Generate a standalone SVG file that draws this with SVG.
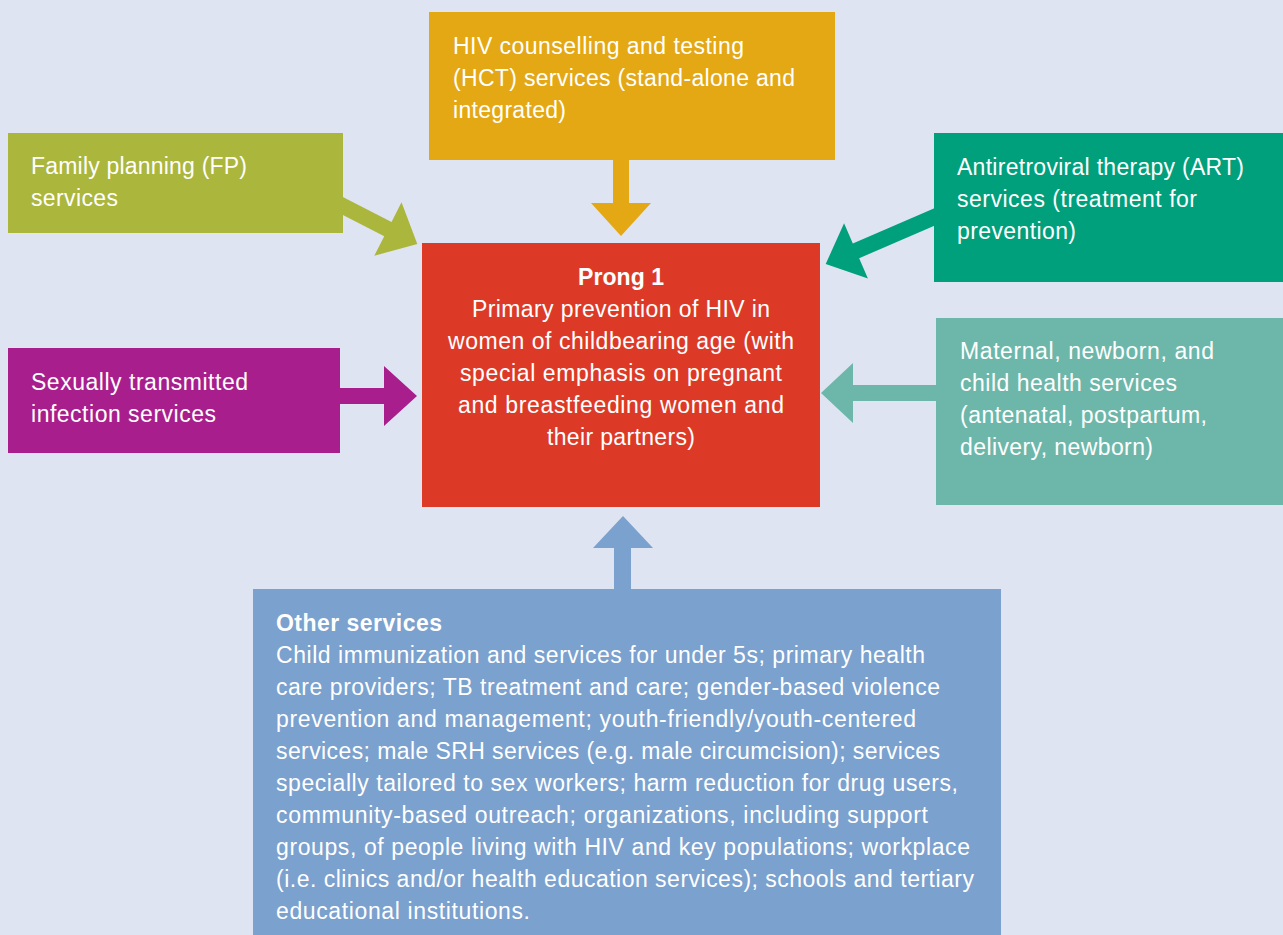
<svg xmlns="http://www.w3.org/2000/svg" width="1283" height="935" viewBox="0 0 1283 935">
<style>
text{font-family:"Liberation Sans",Arial,Helvetica,sans-serif;font-size:23px;fill:#ffffff}
.b{font-weight:bold}
.m{text-anchor:middle}
</style>
<defs>
<polygon id="diag" points="0,0 -33,-30 -33,-8 -130,-8 -130,8 -33,8 -33,30"/>
</defs>
<rect x="0" y="0" width="1283" height="935" fill="#DEE4F1"/>
<g id="connectors">
<polygon fill="#E4A814" points="613,158 629,158 629,203 651,203 621,236 591,203 613,203"/>
<polygon fill="#A91E8D" points="338,388 384,388 384,366 417,396 384,426 384,404 338,404"/>
<polygon fill="#6DB7AA" points="938,385 853,385 853,363 821,393 853,423 853,401 938,401"/>
<polygon fill="#7BA1CE" points="614,591 614,548 593,548 623,516 653,548 631,548 631,591"/>
<g transform="translate(417.3,244) rotate(27)"><polygon fill="#ABB63D" points="0,0 -33,-30 -33,-8 -92,-8 -92,8 -33,8 -33,30"/></g>
<g transform="translate(825.7,264) rotate(156.6)"><polygon fill="#00A07D" points="0,0 -33,-30 -33,-8 -125,-8 -125,8 -33,8 -33,30"/></g>
</g>
<g id="hct">
<rect x="429" y="12" width="406" height="148" fill="#E4A814"/>
<text x="453" y="54" textLength="291">HIV counselling and testing</text>
<text x="453" y="86" textLength="342">(HCT) services (stand-alone and</text>
<text x="453" y="118" textLength="113">integrated)</text>
</g>
<g id="fp">
<rect x="8" y="133" width="335" height="100" fill="#ABB63D"/>
<text x="31" y="174" textLength="216">Family planning (FP)</text>
<text x="31" y="206" textLength="87">services</text>
</g>
<g id="art">
<rect x="934" y="133" width="349" height="149" fill="#00A07D"/>
<text x="957" y="175" textLength="287">Antiretroviral therapy (ART)</text>
<text x="957" y="207" textLength="240">services (treatment for</text>
<text x="957" y="239" textLength="119">prevention)</text>
</g>
<g id="sti">
<rect x="8" y="348" width="332" height="105" fill="#A91E8D"/>
<text x="31" y="390" textLength="217">Sexually transmitted</text>
<text x="31" y="422" textLength="185">infection services</text>
</g>
<g id="mnch">
<rect x="936" y="318" width="347" height="187" fill="#6DB7AA"/>
<text x="960" y="359" textLength="254">Maternal, newborn, and</text>
<text x="960" y="391" textLength="217">child health services</text>
<text x="960" y="423" textLength="247">(antenatal, postpartum,</text>
<text x="960" y="455" textLength="193">delivery, newborn)</text>
</g>
<g id="prong1">
<rect x="422" y="243" width="398" height="264" fill="#DC3A27"/>
<text class="b m" x="621" y="285" textLength="86">Prong 1</text>
<text class="m" x="621" y="317" textLength="298">Primary prevention of HIV in</text>
<text class="m" x="621" y="349" textLength="346">women of childbearing age (with</text>
<text class="m" x="621" y="381" textLength="322">special emphasis on pregnant</text>
<text class="m" x="621" y="413" textLength="326">and breastfeeding women and</text>
<text class="m" x="621" y="445" textLength="148">their partners)</text>
</g>
<g id="other">
<rect x="253" y="589" width="748" height="346" fill="#7BA1CE"/>
<text class="b" x="276" y="631" textLength="166">Other services</text>
<text x="276" y="663" textLength="649">Child immunization and services for under 5s; primary health</text>
<text x="276" y="695" textLength="664">care providers; TB treatment and care; gender-based violence</text>
<text x="276" y="727" textLength="640">prevention and management; youth-friendly/youth-centered</text>
<text x="276" y="759" textLength="664">services; male SRH services (e.g. male circumcision); services</text>
<text x="276" y="791" textLength="682">specially tailored to sex workers; harm reduction for drug users,</text>
<text x="276" y="823" textLength="652">community-based outreach; organizations, including support</text>
<text x="276" y="855" textLength="694">groups, of people living with HIV and key populations; workplace</text>
<text x="276" y="887" textLength="698">(i.e. clinics and/or health education services); schools and tertiary</text>
<text x="276" y="919" textLength="254">educational institutions.</text>
</g>
</svg>
